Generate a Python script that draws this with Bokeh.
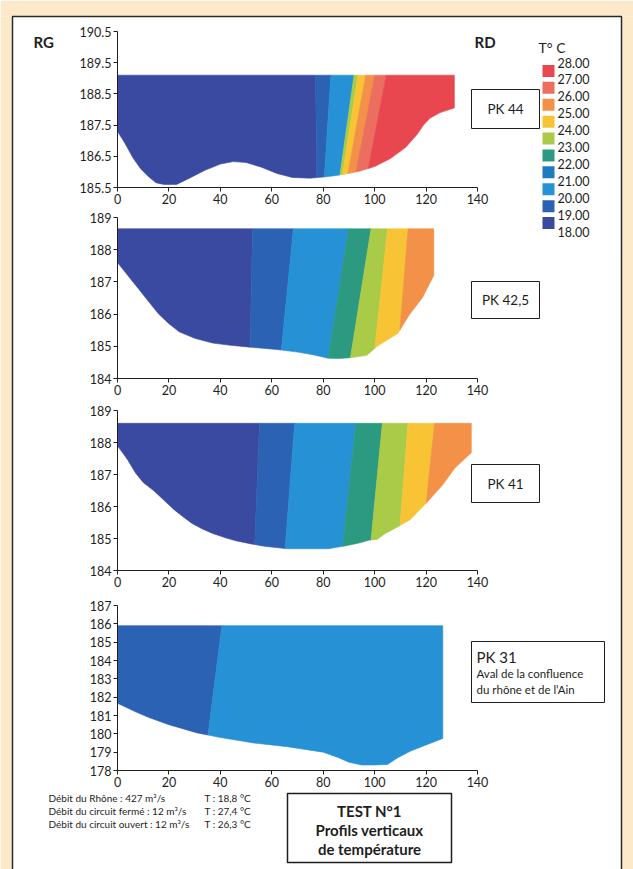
from bokeh.plotting import figure
from bokeh.layouts import column
from bokeh.models import Range1d, FixedTicker, Label, ColumnDataSource, GridBox
from bokeh.embed import file_html
from bokeh.resources import INLINE

# ---------------- data ----------------
legend_title = "T° C"
legend_ticks = ["28.00", "27.00", "26.00", "25.00", "24.00", "23.00",
                "22.00", "21.00", "20.00", "19.00", "18.00"]
legend_colors = ["#E8474F", "#EC6E5E", "#F29147", "#F8C436", "#A9CB47",
                 "#2B9A80", "#1E7BC2", "#2691D5", "#2C62B3", "#3A4AA0"]
RED, SALMON, ORANGE, YELLOW, YGREEN, TEAL, BLUE, LBLUE, MBLUE, INDIGO = legend_colors

x_ticks = [0, 20, 40, 60, 80, 100, 120, 140]

# PK 44
pk44_bed_x = [0, 3, 6, 9, 12, 15, 18, 23, 28, 34, 40, 45, 50, 56, 62, 68, 75, 82, 88,
              94, 100, 106, 112, 116.5, 119, 121.5, 125.5, 131]
pk44_bed_z = [187.3, 186.9, 186.45, 186.1, 185.85, 185.65, 185.6, 185.6, 185.8, 186.05,
              186.25, 186.33, 186.3, 186.15, 185.95, 185.82, 185.8, 185.85, 185.92,
              186.02, 186.17, 186.42, 186.78, 187.2, 187.5, 187.72, 187.9, 188.05]
pk44_surface = 189.1
pk44_band_colors = [INDIGO, MBLUE, LBLUE, YGREEN, YELLOW, ORANGE, SALMON, RED]
pk44_bound_top = [77, 83, 92, 93.5, 96.5, 100, 104.5]
pk44_bound_bot = [77.5, 80.5, 86.5, 87.5, 89.5, 92.5, 97]
pk44_bound_zref = 185.9

# PK 42,5
pk425_bed_x = [0, 4, 8, 12, 16, 20, 24, 30, 37, 44, 52, 62, 70, 76, 82, 86, 91, 97,
               101, 105, 109, 113.7, 118.5, 123]
pk425_bed_z = [187.6, 187.2, 186.8, 186.4, 186.0, 185.7, 185.45, 185.25, 185.1, 185.03,
               184.97, 184.9, 184.82, 184.74, 184.63, 184.62, 184.65, 184.72, 185.0,
               185.2, 185.4, 186.0, 186.5, 187.2]
pk425_surface = 188.65
pk425_band_colors = [INDIGO, MBLUE, LBLUE, TEAL, YGREEN, YELLOW, ORANGE]
pk425_bound_top = [52.5, 68.4, 89.9, 98.6, 105, 113]
pk425_bound_bot = [51.5, 63.5, 82, 90.7, 99.8, 109]
pk425_bound_zref = 184.7

# PK 41
pk41_bed_x = [0, 4, 7, 10, 14, 18, 22, 26, 29, 33, 37, 42, 46, 52, 57, 66, 82, 88, 94,
              98, 101, 104, 107.5, 113.7, 120, 126.5, 131.2, 137.6]
pk41_bed_z = [187.9, 187.45, 187.05, 186.75, 186.5, 186.2, 185.9, 185.65, 185.47, 185.3,
              185.16, 185.02, 184.93, 184.83, 184.76, 184.68, 184.68, 184.76, 184.86,
              184.95, 184.97, 185.15, 185.3, 185.58, 186.1, 186.68, 187.2, 187.68]
pk41_surface = 188.6
pk41_band_colors = [INDIGO, MBLUE, LBLUE, TEAL, YGREEN, YELLOW, ORANGE]
pk41_bound_top = [55.2, 68.9, 92.7, 103, 113, 123.3]
pk41_bound_bot = [53.3, 65.2, 87.5, 98.3, 109.2, 118.2]
pk41_bound_zref = 184.7

# PK 31
pk31_bed_x = [0, 7, 12, 20, 31, 40, 53, 66, 80, 86, 90, 95, 100, 105, 109, 114, 126.5]
pk31_bed_z = [181.67, 181.2, 180.9, 180.5, 180.05, 179.8, 179.5, 179.3, 179.0, 178.7,
              178.45, 178.3, 178.3, 178.33, 178.7, 179.06, 179.75]
pk31_surface = 185.9
pk31_band_colors = [MBLUE, LBLUE]
pk31_bound_top = [40.6]
pk31_bound_bot = [33.7]
pk31_bound_zref = 178.3

footer_left = ["Débit du Rhône : 427 m³/s", "Débit du circuit fermé : 12 m³/s",
               "Débit du circuit ouvert : 12 m³/s"]
footer_right = ["T : 18,8 °C", "T : 27,4 °C", "T : 26,3 °C"]
test_lines = ["TEST N°1", "Profils verticaux", "de température"]

# ---------------- styling / layout (page pixels) ----------------
BEIGE = "#FCE9C9"
INK = "#1e1e1e"
FONT = "Lato"
PAGE_W, PAGE_H = 633, 869
PANEL_L, PANEL_R, PANEL_T = 12, 621, 16
FRAME_L, FRAME_R = 117, 477

# per profile: page top of its figure, page y of top tick, page y of x axis
specs = [
    dict(top=0, ytick_py=31, axis_py=187, y0=185.5, y1=190.5,
         yt=[185.5, 186.5, 187.5, 188.5, 189.5, 190.5]),
    dict(top=210, ytick_py=217, axis_py=378, y0=184, y1=189,
         yt=[184, 185, 186, 187, 188, 189]),
    dict(top=401, ytick_py=410, axis_py=570, y0=184, y1=189,
         yt=[184, 185, 186, 187, 188, 189]),
    dict(top=593, ytick_py=605, axis_py=770, y0=178, y1=187,
         yt=list(range(178, 188))),
]


def clip_poly(subject, clip):
    def inside(p, a, b):
        return (b[0] - a[0]) * (p[1] - a[1]) - (b[1] - a[1]) * (p[0] - a[0]) >= 0

    def inter(p1, p2, a, b):
        x1, y1 = p1; x2, y2 = p2; x3, y3 = a; x4, y4 = b
        den = (x1 - x2) * (y3 - y4) - (y1 - y2) * (x3 - x4)
        t = ((x1 - x3) * (y3 - y4) - (y1 - y3) * (x3 - x4)) / den
        return (x1 + t * (x2 - x1), y1 + t * (y2 - y1))

    out = list(subject)
    for i in range(len(clip)):
        a, b = clip[i], clip[(i + 1) % len(clip)]
        inp, out = out, []
        if not inp:
            break
        s = inp[-1]
        for e in inp:
            if inside(e, a, b):
                if not inside(s, a, b):
                    out.append(inter(s, e, a, b))
                out.append(e)
            elif inside(s, a, b):
                out.append(inter(s, e, a, b))
            s = e
    return out


def band_patches(bed_x, bed_z, zs, colors, btop, bbot, zref):
    section = [(bed_x[0], zs)] + list(zip(bed_x, bed_z)) + [(bed_x[-1], zs)]
    zt, zb = zs + 1.0, min(bed_z) - 1.0
    tops = [-100.0] + list(btop) + [400.0]
    bots = [-100.0] + list(bbot) + [400.0]

    def xat(k, z):
        return tops[k] + (bots[k] - tops[k]) * (zs - z) / (zs - zref)

    xs, ys, cs = [], [], []
    for k, c in enumerate(colors):
        quad = [(xat(k, zb), zb), (xat(k + 1, zb), zb), (xat(k + 1, zt), zt), (xat(k, zt), zt)]
        poly = clip_poly(section, quad)
        if len(poly) >= 3:
            xs.append([p[0] for p in poly]); ys.append([p[1] for p in poly]); cs.append(c)
    return ColumnDataSource(dict(xs=xs, ys=ys, color=cs))


profiles = [
    (pk44_bed_x, pk44_bed_z, pk44_surface, pk44_band_colors, pk44_bound_top, pk44_bound_bot, pk44_bound_zref),
    (pk425_bed_x, pk425_bed_z, pk425_surface, pk425_band_colors, pk425_bound_top, pk425_bound_bot, pk425_bound_zref),
    (pk41_bed_x, pk41_bed_z, pk41_surface, pk41_band_colors, pk41_bound_top, pk41_bound_bot, pk41_bound_zref),
    (pk31_bed_x, pk31_bed_z, pk31_surface, pk31_band_colors, pk31_bound_top, pk31_bound_bot, pk31_bound_zref),
]

plot_figs = []
for i, (s, prof) in enumerate(zip(specs, profiles)):
    bottom = specs[i + 1]["top"] if i + 1 < len(specs) else PAGE_H
    p = figure(width=PAGE_W, height=bottom - s["top"], x_range=Range1d(0, 140),
               y_range=Range1d(s["y0"], s["y1"]), output_backend="svg",
               toolbar_location=None, min_border_left=FRAME_L,
               min_border_right=PAGE_W - FRAME_R, min_border_top=s["ytick_py"] - s["top"],
               min_border_bottom=bottom - s["axis_py"])
    p.border_fill_color = "white"
    p.background_fill_color = "white"
    p.outline_line_color = None
    p.grid.visible = False
    for ax in (p.xaxis[0], p.yaxis[0]):
        ax.axis_line_color = INK
        ax.axis_line_width = 1
        ax.major_tick_line_color = INK
        ax.major_tick_out = 4
        ax.major_tick_in = 0
        ax.minor_tick_line_color = None
        ax.major_label_text_font = FONT
        ax.major_label_text_font_size = "12.5px"
        ax.major_label_text_color = INK
        ax.major_label_standoff = 2
    p.xaxis.ticker = FixedTicker(ticks=x_ticks)
    p.yaxis.ticker = FixedTicker(ticks=s["yt"])
    p.patches("xs", "ys", source=band_patches(*prof), fill_color="color",
              line_color="color", line_width=0.6)
    plot_figs.append(p)

# transparent overlay in page pixels for frame, legend, labels and boxes
ov = figure(width=PAGE_W, height=PAGE_H, x_range=Range1d(0, PAGE_W), y_range=Range1d(PAGE_H, 0),
            x_axis_location=None, y_axis_location=None, output_backend="svg",
            toolbar_location=None, min_border_left=0, min_border_right=0,
            min_border_top=0, min_border_bottom=0)
ov.grid.visible = False
ov.outline_line_color = None
ov.background_fill_color = None
ov.border_fill_color = None

ov.quad(left=[0, 0, PANEL_R], right=[PAGE_W, PANEL_L, PAGE_W], top=[0, PANEL_T, PANEL_T],
        bottom=[PANEL_T, PAGE_H, PAGE_H], fill_color=BEIGE, line_color=None)
ov.line(x=[PANEL_L, PANEL_L, PANEL_R, PANEL_R], y=[PAGE_H + 5, PANEL_T, PANEL_T, PAGE_H + 5],
        line_color="#2a2a2a", line_width=1.5)


def add_box(px0, py0, px1, py1, fill=None, line=INK, lw=1.0):
    ov.quad(left=px0, right=px1, top=py0, bottom=py1, fill_color=fill,
            line_color=line, line_width=lw)


def add_text(px, py, text, size=13, bold=False, align="left"):
    ov.add_layout(Label(x=px, y=py, text=text, text_font=FONT, text_font_size=f"{size}px",
                        text_font_style="bold" if bold else "normal",
                        text_color=INK, text_align=align, text_baseline="middle"))


add_text(33, 41, "RG", 15, bold=True)
add_text(474, 41, "RD", 15, bold=True)

# legend
add_text(538, 47, legend_title, 14)
for i, t in enumerate(legend_ticks):
    add_text(557, 62 + 16.9 * i, t, 12.5)
for i, c in enumerate(legend_colors):
    yc = 62 + 16.9 * (i + 0.5)
    add_box(542, yc - 6, 554, yc + 6, fill=c, line=None)

# PK boxes
add_box(471, 89, 539, 128)
add_text(505, 108.5, "PK 44", 13.5, align="center")
add_box(471, 281, 539, 318)
add_text(505, 299.5, "PK 42,5", 13.5, align="center")
add_box(471, 464, 539, 502)
add_text(505, 483, "PK 41", 13.5, align="center")
add_box(471, 641, 604, 702)
add_text(476, 656, "PK 31", 15)
add_text(476, 673, "Aval de la confluence", 11.5)
add_text(476, 689, "du rhône et de l’Ain", 11.5)

# footer
for i, (a, b) in enumerate(zip(footer_left, footer_right)):
    add_text(48, 797 + 13.3 * i, a, 10)
    add_text(204, 797 + 13.3 * i, b, 10)
add_box(287, 793, 451, 862, lw=1.5)
for i, t in enumerate(test_lines):
    add_text(369, 810 + 19 * i, t, 15, bold=True, align="center")

base = column(*plot_figs, spacing=0)
layout = GridBox(children=[(base, 0, 0), (ov, 0, 0)])

TEMPLATE = "{% block postamble %}<style>html, body { background-color: white; }</style>{% endblock %}"
html = file_html(layout, INLINE, "Profils verticaux de température", template=TEMPLATE)
open("out.html", "w").write(html)
